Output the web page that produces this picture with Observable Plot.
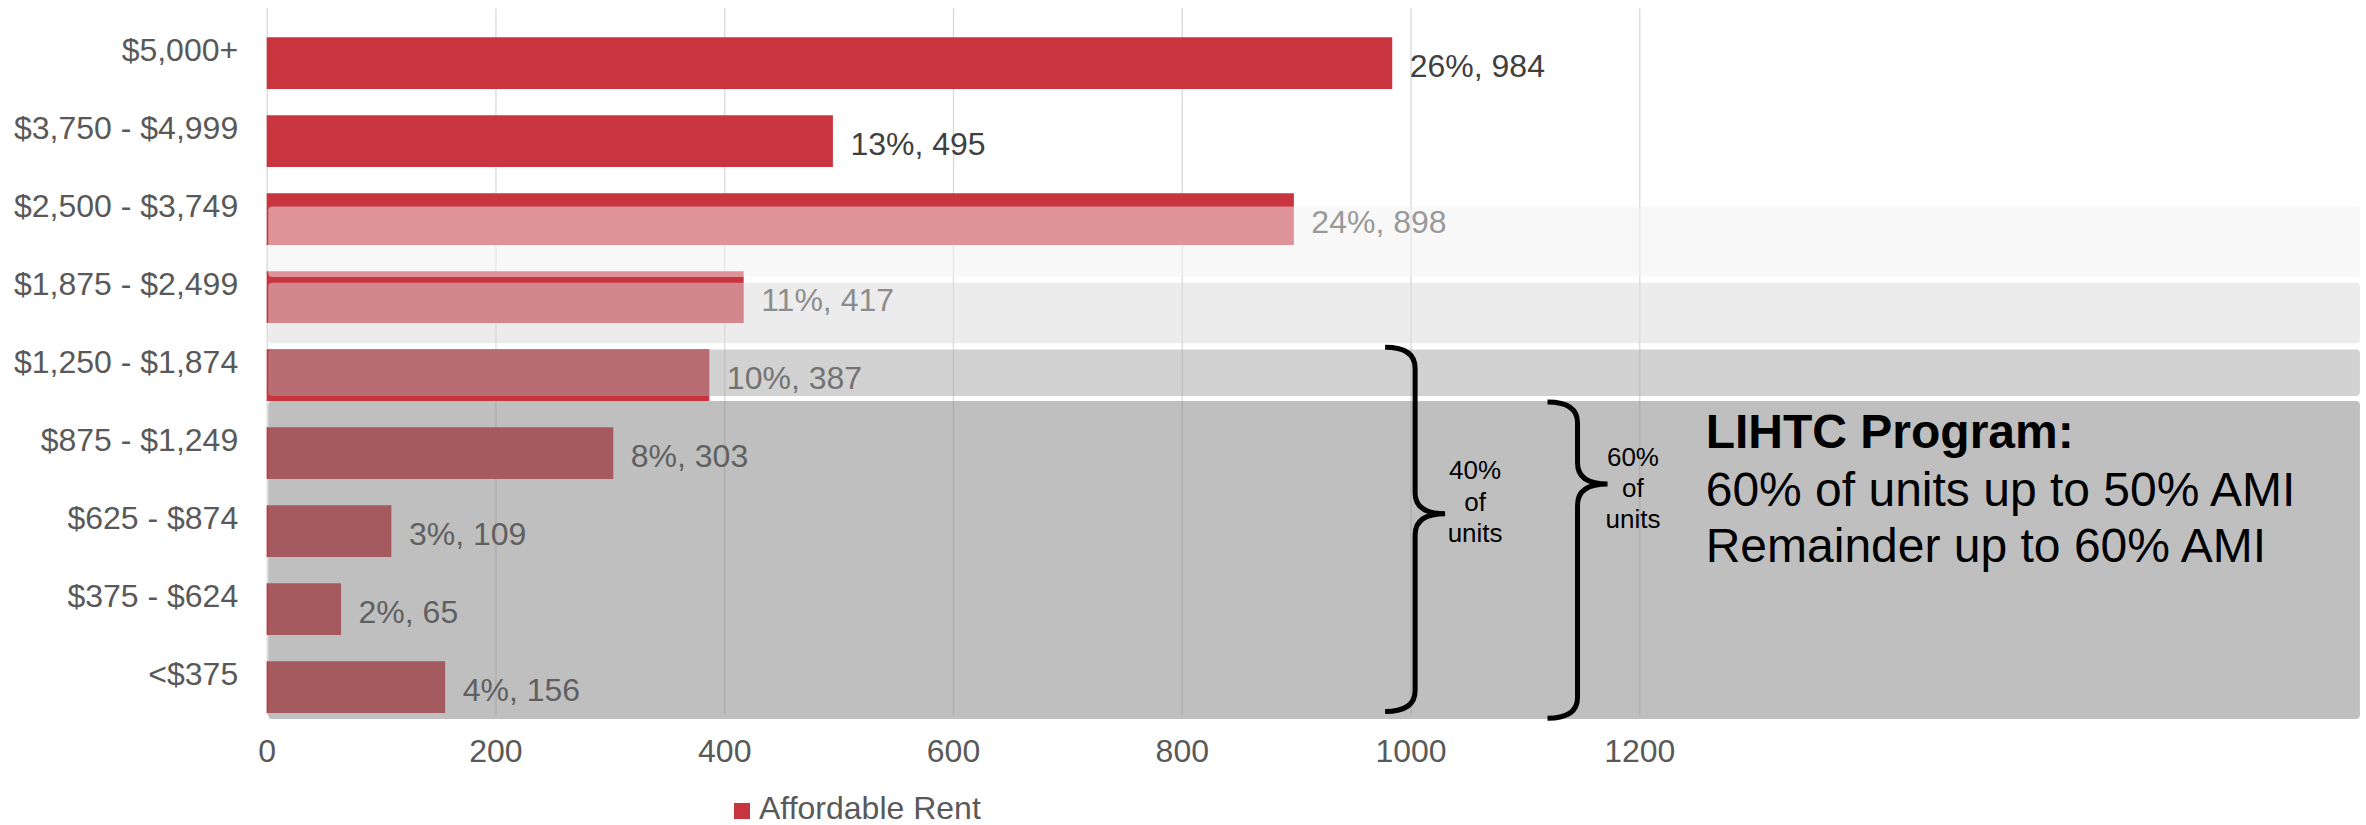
<!DOCTYPE html>
<html>
<head>
<meta charset="utf-8">
<script src="https://cdn.jsdelivr.net/npm/d3@7"></script>
<script src="https://cdn.jsdelivr.net/npm/@observablehq/plot@0.6"></script>
<style>
  html, body { margin: 0; padding: 0; background: #fff; }
  #legend { height: 33px; line-height: 33px; padding-left: 734px; font-family: "Liberation Sans", Arial, sans-serif; font-size: 32px; color: #595959; white-space: nowrap; }
  #legend .sw { display: inline-block; width: 16px; height: 16px; background: #c8353f; margin-right: 9px; }
</style>
</head>
<body>
<div id="chart"></div>
<div id="legend"><span class="sw"></span>Affordable Rent</div>
<script>
// ---- data ----
const categories = ["$5,000+", "$3,750 - $4,999", "$2,500 - $3,749", "$1,875 - $2,499", "$1,250 - $1,874", "$875 - $1,249", "$625 - $874", "$375 - $624", "<$375"];
const units = [984, 495, 898, 417, 387, 303, 109, 65, 156];
const shares = [26, 13, 24, 11, 10, 8, 3, 2, 4];
const xTicks = [0, 200, 400, 600, 800, 1000, 1200];
const seriesName = "Affordable Rent";

// ---- annotations (positions in category coordinates: i = start of category i) ----
const shadeBands = [
  {x1: 0, x2: 1830, p1: 2.506, p2: 3.411, fill: "#f2f2f2"},
  {x1: 0, x2: 1830, p1: 3.483, p2: 4.260, fill: "#d9d9d9"},
  {x1: 0, x2: 1830, p1: 4.340, p2: 4.936, fill: "#a6a6a6"},
  {x1: 0, x2: 1830, p1: 5.000, p2: 9.076, fill: "#7f7f7f"}
];
const braces = [
  {x: 1004, top: 4.311, mid: 6.446, bottom: 8.982},
  {x: 1146, top: 5.012, mid: 6.064, bottom: 9.067}
];

const rows = categories.map((c, i) => ({cat: c, value: units[i], label: `${shares[i]}%, ${units[i]}`}));

function annotationLayer(index, scales) {
  const {x, y} = scales;
  const bw = y.bandwidth();
  const ypos = p => {
    const i = Math.min(Math.floor(p), categories.length - 1);
    return y(categories[i]) + (p - i) * bw;
  };
  const g = d3.create("svg:g");
  for (const b of shadeBands) {
    const xa = x(b.x1) + 1.5, xb = x(b.x2);
    const ya = ypos(b.p1), yb = ypos(b.p2);
    g.append("rect")
      .attr("x", xa).attr("width", xb - xa)
      .attr("y", ya).attr("height", yb - ya)
      .attr("rx", 4).attr("ry", 4)
      .attr("fill", b.fill).attr("fill-opacity", 0.5);
  }
  const hw = 30, r = 21;
  for (const b of braces) {
    const xv = x(b.x), yt = ypos(b.top), ym = ypos(b.mid), yb = ypos(b.bottom);
    const path = `M${xv - hw},${yt} Q${xv},${yt} ${xv},${yt + r} L${xv},${ym - r} Q${xv},${ym} ${xv + hw},${ym} Q${xv},${ym} ${xv},${ym + r} L${xv},${yb - r} Q${xv},${yb} ${xv - hw},${yb}`;
    g.append("path").attr("d", path).attr("fill", "none").attr("stroke", "#000").attr("stroke-width", 5);
  }
  return g.node();
}

const chart = Plot.plot({
  width: 2366,
  height: 792,
  marginLeft: 266.7,
  marginRight: 726.7,
  marginTop: 8.25,
  marginBottom: 77.25,
  style: {fontFamily: "'Liberation Sans', Arial, sans-serif", fontSize: "32px", color: "#595959", background: "#fff", overflow: "visible"},
  x: {domain: [0, 1200], ticks: xTicks, tickSize: 0, tickPadding: 24, tickFormat: d => String(d), label: null},
  y: {domain: categories, padding: 0, tickSize: 0, tickPadding: 29, label: null},
  marks: [
    Plot.ruleX(xTicks, {stroke: "#d9d9d9", strokeWidth: 1.3}),
    Plot.barX(rows, {x: "value", y: "cat", fill: "#c8353f", insetTop: 26.25, insetBottom: 0}),
    Plot.text(rows, {x: "value", y: "cat", text: "label", textAnchor: "start", dx: 17, dy: 16, fill: "#404040", fontSize: 32}),
    annotationLayer,
    Plot.text(["40%\nof\nunits"], {x: 1056, y: () => categories[6], text: d => d, textAnchor: "middle", lineAnchor: "bottom", lineHeight: 1.2, dy: 23.2, fontSize: 26, fill: "#000"}),
    Plot.text(["60%\nof\nunits"], {x: 1194, y: () => categories[6], text: d => d, textAnchor: "middle", lineAnchor: "bottom", lineHeight: 1.2, dy: 9.8, fontSize: 26, fill: "#000"}),
    Plot.text(["LIHTC Program:"], {x: 1257.6, y: () => categories[5], text: d => d, textAnchor: "start", lineAnchor: "bottom", dy: 7.3, fontSize: 48, fontWeight: "bold", fill: "#000"}),
    Plot.text(["60% of units up to 50% AMI\nRemainder up to 60% AMI"], {x: 1257.6, y: () => categories[7], text: d => d, textAnchor: "start", lineAnchor: "bottom", lineHeight: 1.18, dy: -34.2, fontSize: 48, fill: "#000"})
  ]
});
document.getElementById("chart").appendChild(chart);
</script>
</body>
</html>
